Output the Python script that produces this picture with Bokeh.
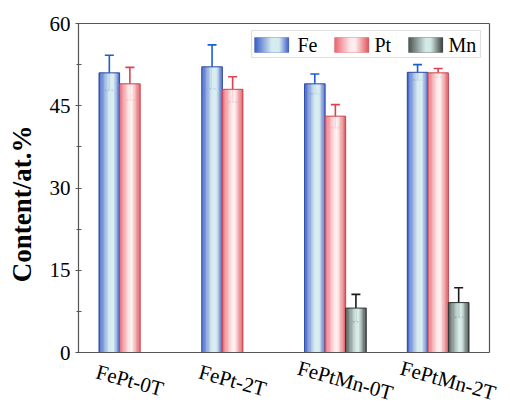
import numpy as np
from bokeh.plotting import figure
from bokeh.models import (Range1d, FixedTicker, ColumnDataSource, Whisker,
                          BoxAnnotation, Label, LabelSet, TeeHead)
from bokeh.embed import file_html
from bokeh.resources import INLINE

# ---------------- data ----------------
categories = ["FePt-0T", "FePt-2T", "FePtMn-0T", "FePtMn-2T"]
series_names = ["Fe", "Pt", "Mn"]
fe = [51.0, 52.1, 49.0, 51.1]
fe_err = [3.2, 4.0, 1.8, 1.4]
pt = [49.0, 48.0, 43.1, 51.0]
pt_err = [3.0, 2.3, 2.1, 0.8]
mn = [0.0, 0.0, 8.1, 9.1]
mn_err = [0.0, 0.0, 2.5, 2.7]
y_ticks = [0, 15, 30, 45, 60]
y_minor = [7.5, 22.5, 37.5, 52.5]

# ---------------- style / layout ----------------
SERIF = "Liberation Serif"
BAR_W = 0.2
OFFSETS = [-0.2, 0.0, 0.2]
NSLICE = 26
W, H = 510, 407
BOX_L, BOX_R, BOX_T, BOX_B = 78, 489, 23, 352   # pixel box of the axes frame
X0, X1, Y0, Y1 = -0.5, 3.5, 0.0, 60.0
PXX = (BOX_R - BOX_L) / (X1 - X0)
PXY = (BOX_B - BOX_T) / (Y1 - Y0)
X_HIGH = X1 + (W - BOX_R) / PXX      # frame runs to the canvas edge so labels fit
Y_LOW = Y0 - (H - BOX_B) / PXY
Y_HIGH = Y1 + BOX_T / PXY
STOPS = {
    "Fe": [(0.0, "#3a5bc7"), (0.5, "#d4ebee"), (0.72, "#d6ecef"), (1.0, "#4563cb")],
    "Pt": [(0.0, "#ea6470"), (0.45, "#fde6e6"), (0.6, "#fff2f2"), (1.0, "#e0585f")],
    "Mn": [(0.0, "#4a5351"), (0.5, "#d2e8e3"), (0.65, "#d4eae5"), (1.0, "#3b4341")],
}
OUTLINE = {"Fe": "#2b4aa6", "Pt": "#c9464f", "Mn": "#2e3332"}
ERRC = {"Fe": "#1a5ed6", "Pt": "#e2404c", "Mn": "#1a1a1a"}
AXC = "#555555"


def hex2rgb(h):
    h = h.lstrip("#")
    return np.array([int(h[i:i + 2], 16) for i in (0, 2, 4)], dtype=float)


def grad(stops, t):
    for (t0, c0), (t1, c1) in zip(stops[:-1], stops[1:]):
        if t0 <= t <= t1:
            f = 0 if t1 == t0 else (t - t0) / (t1 - t0)
            c = hex2rgb(c0) * (1 - f) + hex2rgb(c1) * f
            return "#%02x%02x%02x" % tuple(int(round(v)) for v in c)
    return stops[-1][1]


def sy(ypix):
    """canvas-pixel y (from top) -> frame-relative screen y (from bottom)"""
    return H - ypix


def sx(xpix):
    """canvas-pixel x -> frame-relative screen x"""
    return xpix - BOX_L


p = figure(width=W, height=H, output_backend="svg", toolbar_location=None,
           x_range=Range1d(X0, X_HIGH), y_range=Range1d(Y_LOW, Y_HIGH),
           min_border_left=BOX_L, min_border_right=0, min_border_top=0,
           min_border_bottom=0)
p.background_fill_color = "white"
p.border_fill_color = "white"
p.outline_line_color = None
p.xgrid.visible = False
p.ygrid.visible = False
p.xaxis.visible = False

vals = {"Fe": fe, "Pt": pt, "Mn": mn}
errs = {"Fe": fe_err, "Pt": pt_err, "Mn": mn_err}

for k, name in enumerate(series_names):
    v = vals[name]
    e = errs[name]
    idx = [i for i in range(len(categories)) if v[i] > 0]
    base = [i + OFFSETS[k] for i in idx]
    tops = [v[i] for i in idx]
    xs, ts, cs = [], [], []
    for j in range(NSLICE):
        t = (j + 0.5) / NSLICE
        col = grad(STOPS[name], t)
        for b, tp in zip(base, tops):
            xs.append(b + (t - 0.5) * BAR_W)
            ts.append(tp)
            cs.append(col)
    src = ColumnDataSource(dict(x=xs, top=ts, color=cs))
    p.vbar(x="x", top="top", bottom=0, width=BAR_W / NSLICE * 1.35, source=src,
           fill_color="color", line_color=None)
    p.vbar(x=base, top=tops, bottom=0, width=BAR_W, fill_color=None,
           line_color=OUTLINE[name], line_width=1)
    esrc = ColumnDataSource(dict(x=base,
                                 upper=[v[i] + e[i] for i in idx],
                                 lower=[v[i] - e[i] for i in idx]))
    w = Whisker(source=esrc, base="x", upper="upper", lower="lower",
                dimension="height", line_color=ERRC[name], line_width=1.6,
                upper_head=TeeHead(size=9, line_color=ERRC[name], line_width=1.6),
                lower_head=TeeHead(size=9, line_color=ERRC[name], line_width=1.6))
    p.add_layout(w)

# frame edges: bottom (x axis line), top, right
p.segment(x0=[X0, X0, X1], y0=[Y0, Y1, Y0], x1=[X1, X1, X1], y1=[Y0, Y1, Y1],
          line_color=AXC, line_width=1.2)

# y axis (left), line limited to 0..60
p.yaxis.bounds = (Y0, Y1)
p.yaxis.ticker = FixedTicker(ticks=y_ticks, minor_ticks=y_minor)
p.yaxis.major_label_text_font = SERIF
p.yaxis.major_label_text_font_size = "21px"
p.yaxis.major_label_text_color = "black"
p.yaxis.major_label_standoff = 5
p.yaxis.major_tick_in = 3
p.yaxis.major_tick_out = 3
p.yaxis.minor_tick_in = 3
p.yaxis.minor_tick_out = 2
p.yaxis.axis_line_color = AXC
p.yaxis.axis_line_width = 1.2
p.yaxis.major_tick_line_color = AXC
p.yaxis.minor_tick_line_color = AXC
p.yaxis.axis_label = "Content/at.%"
p.yaxis.axis_label_text_font = SERIF
p.yaxis.axis_label_text_font_style = "bold"
p.yaxis.axis_label_text_font_size = "27px"
p.yaxis.axis_label_text_color = "black"
p.yaxis.axis_label_standoff = 10

# slanted category names under each group
lab_src = ColumnDataSource(dict(
    x=list(range(len(categories))),
    y=[0] * len(categories),
    text=categories,
    xo=[5 * len(c) - 35 for c in categories],
))
p.add_layout(LabelSet(x="x", y="y", text="text", source=lab_src,
                      x_offset="xo", y_offset=-28, angle=-0.27,
                      text_font=SERIF, text_font_size="21px",
                      text_color="black", text_align="center",
                      text_baseline="middle"))

# manual legend with gradient swatches (frame-relative screen units)
p.add_layout(BoxAnnotation(left=sx(251), right=sx(480), bottom=sy(57), top=sy(30),
                           left_units="screen", right_units="screen",
                           bottom_units="screen", top_units="screen",
                           fill_color="white", fill_alpha=1,
                           line_color="#999999", line_width=1.2))
sw_left = {"Fe": 254, "Pt": 334, "Mn": 408}
tx_left = {"Fe": 297, "Pt": 374, "Mn": 448}
SW_W = 34
NS = 17
for name in series_names:
    for j in range(NS):
        t = (j + 0.5) / NS
        l = sx(sw_left[name]) + j * SW_W / NS
        p.add_layout(BoxAnnotation(left=l, right=l + SW_W / NS + 0.6,
                                   bottom=sy(52), top=sy(37),
                                   left_units="screen", right_units="screen",
                                   bottom_units="screen", top_units="screen",
                                   fill_color=grad(STOPS[name], t), fill_alpha=1,
                                   line_color=None))
    p.add_layout(BoxAnnotation(left=sx(sw_left[name]), right=sx(sw_left[name]) + SW_W,
                               bottom=sy(52), top=sy(37),
                               left_units="screen", right_units="screen",
                               bottom_units="screen", top_units="screen",
                               fill_color=None, line_color=OUTLINE[name],
                               line_width=1))
    p.add_layout(Label(x=sx(tx_left[name]), y=sy(44.5), x_units="screen",
                       y_units="screen", text=name, text_font=SERIF,
                       text_font_size="20px", text_color="black",
                       text_baseline="middle", text_align="left"))

open("out.html", "w").write(file_html(p, INLINE))
